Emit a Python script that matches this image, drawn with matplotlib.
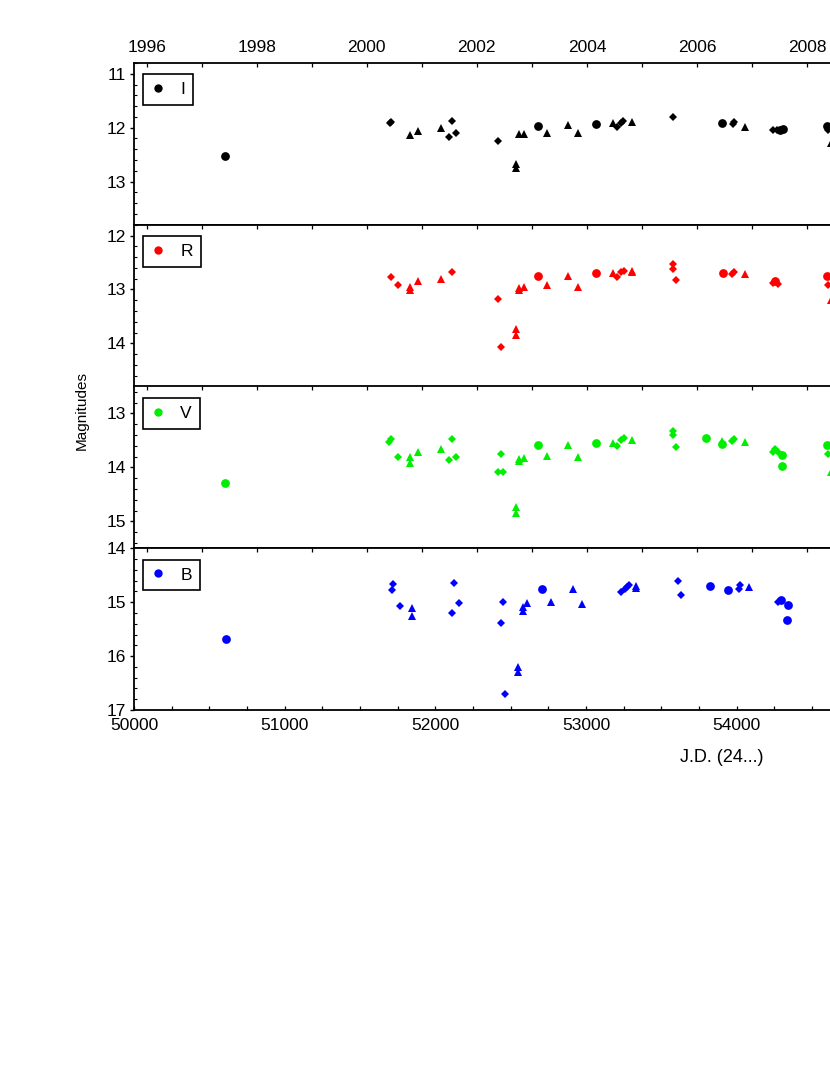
import matplotlib
matplotlib.use('Agg')
import matplotlib.pyplot as plt
from matplotlib.lines import Line2D
from matplotlib.ticker import MultipleLocator, FixedLocator
import numpy as np

plt.rcParams['font.family'] = ['Liberation Sans', 'DejaVu Sans']

# ---- data (JD - 2400000, magnitude) ----
# I band
i_circ_jd = [50604, 52681, 53068, 53904, 54289, 54306, 54600]
i_circ_mag = [12.53, 11.96, 11.94, 11.91, 12.04, 12.03, 11.97]
i_diam_jd = [51699, 51703, 52090, 52108, 52139, 52418, 53208, 53232, 53247, 53577, 53973, 53984, 54241, 54270, 54608]
i_diam_mag = [11.91, 11.90, 12.18, 11.87, 12.10, 12.25, 11.98, 11.92, 11.88, 11.80, 11.94, 11.89, 12.04, 12.05, 12.04]
i_tri_jd = [51832, 51887, 52037, 52533, 52533, 52557, 52588, 52741, 52882, 52947, 53181, 53303, 54053, 54625]
i_tri_mag = [12.14, 12.06, 12.00, 12.68, 12.74, 12.11, 12.11, 12.10, 11.95, 12.10, 11.92, 11.89, 11.98, 12.29]

# R band
r_circ_jd = [52681, 53068, 53906, 54254, 54601]
r_circ_mag = [12.75, 12.70, 12.70, 12.85, 12.75]
r_diam_jd = [51703, 51750, 52108, 52418, 52434, 53208, 53232, 53252, 53577, 53577, 53595, 53971, 53984, 54243, 54272, 54608]
r_diam_mag = [12.77, 12.92, 12.67, 13.18, 14.06, 12.77, 12.68, 12.65, 12.53, 12.62, 12.82, 12.72, 12.67, 12.88, 12.89, 12.92]
r_tri_jd = [51832, 51832, 51885, 52035, 52533, 52533, 52557, 52557, 52588, 52741, 52882, 52947, 53181, 53303, 53303, 54053, 54625]
r_tri_mag = [12.96, 13.01, 12.85, 12.80, 13.73, 13.84, 12.98, 13.01, 12.95, 12.92, 12.75, 12.95, 12.70, 12.65, 12.68, 12.72, 13.20]

# V band
v_circ_jd = [50604, 52681, 53068, 53798, 53904, 54303, 54301, 54601]
v_circ_mag = [14.29, 13.59, 13.54, 13.46, 13.56, 13.77, 13.97, 13.58]
v_diam_jd = [51694, 51703, 51750, 52090, 52108, 52137, 52434, 52414, 52451, 53208, 53232, 53252, 53577, 53577, 53595,
             53971, 53984, 54243, 54254, 54275, 54608]
v_diam_mag = [13.53, 13.48, 13.80, 13.87, 13.48, 13.80, 13.75, 14.08, 14.08, 13.60, 13.49, 13.45, 13.33, 13.40, 13.62,
              13.52, 13.48, 13.72, 13.66, 13.71, 13.75]
v_tri_jd = [51832, 51832, 51885, 52035, 52533, 52533, 52557, 52557, 52588, 52741, 52882, 52947, 53181, 53303, 53904, 54053, 54625]
v_tri_mag = [13.81, 13.91, 13.71, 13.66, 14.74, 14.84, 13.88, 13.84, 13.83, 13.78, 13.58, 13.80, 13.55, 13.49, 13.51, 13.53, 14.08]

# B band
b_circ_jd = [50611, 52710, 53825, 53942, 54294, 54338, 54331]
b_circ_mag = [15.68, 14.75, 14.70, 14.78, 14.96, 15.06, 15.34]
b_diam_jd = [51712, 51721, 51767, 52108, 52126, 52155, 52434, 52451, 52462, 53232, 53258, 53270, 53285, 53612, 53630,
             54013, 54020, 54276]
b_diam_mag = [14.77, 14.67, 15.07, 15.20, 14.64, 15.02, 15.38, 14.99, 16.71, 14.81, 14.76, 14.72, 14.68, 14.61, 14.87,
              14.76, 14.69, 14.99]
b_tri_jd = [51847, 51847, 52551, 52551, 52578, 52578, 52607, 52767, 52911, 52975, 53330, 53330, 54082]
b_tri_mag = [15.11, 15.26, 16.20, 16.30, 15.16, 15.09, 15.02, 14.99, 14.76, 15.04, 14.70, 14.74, 14.72]

bands = ['I', 'R', 'V', 'B']
colors = ['black', '#ff0000', '#00ee00', '#0000ff']
ylims = [(10.8, 13.8), (11.8, 14.8), (12.5, 15.5), (14.0, 17.0)]
yticks = [[11, 12, 13], [12, 13, 14], [13, 14, 15], [14, 15, 16, 17]]
jd_ticks = [50000, 51000, 52000, 53000, 54000]
years = list(range(1996, 2011))
year_labels = [1996, 1998, 2000, 2002, 2004, 2006, 2008]
data = [
    (i_circ_jd, i_circ_mag, i_diam_jd, i_diam_mag, i_tri_jd, i_tri_mag),
    (r_circ_jd, r_circ_mag, r_diam_jd, r_diam_mag, r_tri_jd, r_tri_mag),
    (v_circ_jd, v_circ_mag, v_diam_jd, v_diam_mag, v_tri_jd, v_tri_mag),
    (b_circ_jd, b_circ_mag, b_diam_jd, b_diam_mag, b_tri_jd, b_tri_mag),
]


def jd2yr(jd):
    return 2000 + (np.asarray(jd) - 51544.5) / 365.25


def yr2jd(yr):
    return 51544.5 + (np.asarray(yr) - 2000) * 365.25


W, H = 830, 1075
fig = plt.figure(figsize=(W / 100, H / 100), dpi=100)

# axes run past the right edge of the page, as in the original
x0_px, x1_px = 134, 887.5
top_px, bot_px = 63, 710
ph = (bot_px - top_px) / 4

for k, band in enumerate(bands):
    y_top = top_px + k * ph
    ax = fig.add_axes([x0_px / W, 1 - (y_top + ph) / H, (x1_px - x0_px) / W, ph / H])
    cj, cm, dj, dm, tj, tm = data[k]
    col = colors[k]
    ax.plot(cj, cm, 'o', color=col, ms=6.3, mew=0)
    ax.plot(dj, dm, 'D', color=col, ms=4, mew=0)
    ax.plot(tj, tm, '^', color=col, ms=5.5, mew=0)

    ax.set_xlim(50000, 55000)
    ax.set_ylim(ylims[k][1], ylims[k][0])
    ax.set_yticks(yticks[k])
    ax.yaxis.set_minor_locator(MultipleLocator(0.2))
    ax.tick_params(axis='y', which='major', direction='out', length=3, width=1, labelsize=12.5, pad=3)
    ax.tick_params(axis='y', which='minor', direction='in', length=2, width=0.8)
    ax.tick_params(axis='y', right=False, which='both')

    last = (k == len(bands) - 1)
    ax.xaxis.set_major_locator(FixedLocator(jd_ticks))
    ax.xaxis.set_minor_locator(MultipleLocator(250))
    ax.tick_params(axis='x', which='both', direction='in', length=3, width=0.9,
                   bottom=last, labelbottom=last, top=False, labelsize=12.5, pad=6)
    for s in ax.spines.values():
        s.set_linewidth(1.3)
    ax.spines['top'].set_visible(False)

    sec = ax.secondary_xaxis('top', functions=(jd2yr, yr2jd))
    sec.set_xticks(years)
    if k == 0:
        sec.set_xticklabels([str(y) if y in year_labels else '' for y in years])
    else:
        sec.set_xticklabels(['' for y in years])
    sec.tick_params(direction='in', length=3, width=0.9, labelsize=12.5, pad=6)
    sec.spines['top'].set_linewidth(1.3)

    h = Line2D([], [], marker='o', color=col, ls='none', ms=6, mew=0)
    leg = ax.legend([h], [band], loc='upper left', bbox_to_anchor=(0.012, 0.93),
                    frameon=True, fancybox=False, framealpha=1, edgecolor='black',
                    handlelength=0.8, handletextpad=0.9, borderpad=0.45, borderaxespad=0,
                    fontsize=12.5)
    leg.get_frame().set_linewidth(1.2)

fig.text(82 / W, 1 - 410 / H, 'Magnitudes', rotation=90, ha='center', va='center', fontsize=11)
fig.text(722 / W, 1 - 758 / H, 'J.D. (24...)', ha='center', va='center', fontsize=13)

fig.savefig('out.png', dpi=100)
